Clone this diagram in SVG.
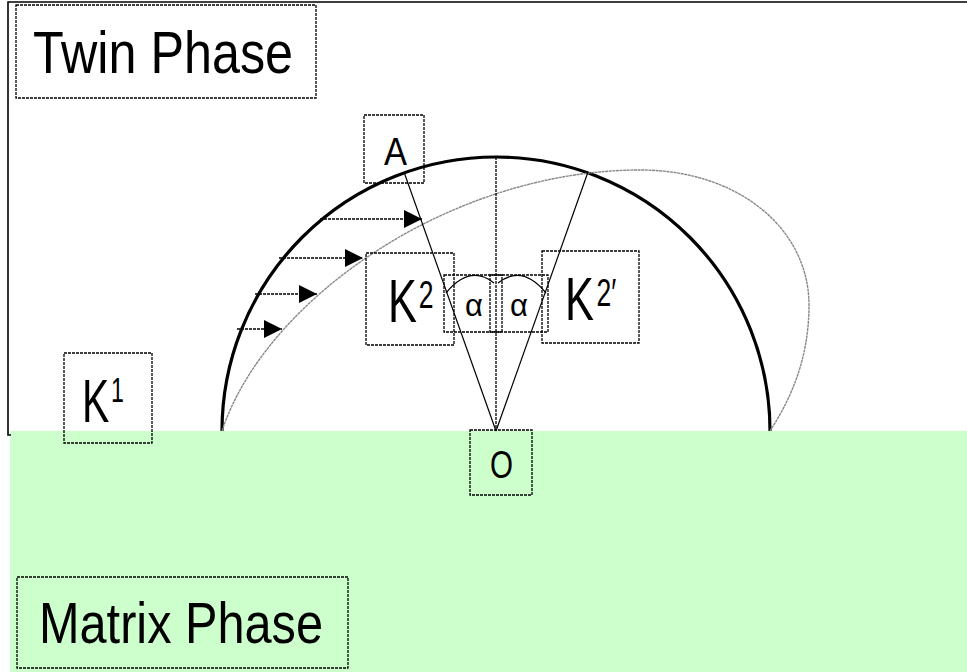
<svg xmlns="http://www.w3.org/2000/svg" width="967" height="672" viewBox="0 0 967 672">
<defs>
<style>
.lbl{fill:none;stroke:#000;stroke-width:1.3;stroke-dasharray:3 1}
.t{font-family:"Liberation Sans Narrow","Liberation Sans",Arial,sans-serif;fill:#000}
.dash{fill:none;stroke:#000;stroke-width:1.3;stroke-dasharray:3 1}
.thin{fill:none;stroke:#000;stroke-width:1.2}
</style>
<marker id="tri" viewBox="0 0 10 10" refX="10" refY="5" markerUnits="userSpaceOnUse" markerWidth="18" markerHeight="18" orient="auto">
<path d="M0,0 L10,5 L0,10 Z" fill="#000"/>
</marker>
</defs>
<rect x="0" y="0" width="967" height="672" fill="#fff"/>
<rect x="10" y="431" width="957" height="241" fill="#ccffcc"/>
<polyline points="967,2 8,2 8,435 11,435" fill="none" stroke="#000" stroke-width="1.6"/>

<g id="connectors">
<path d="M222,431 A274,274 0 0 1 770,431" fill="none" stroke="#000" stroke-width="3.2"/>
<path d="M222,431 C265,300 450,170 640,170 C740,170 809,230 809,305 C809,360 790,400 770,431" fill="none" stroke="#888" stroke-width="1.4" stroke-dasharray="3 0.6"/>
<line x1="496" y1="157" x2="496" y2="431" class="dash"/>
<line x1="404" y1="172" x2="496" y2="431" class="thin"/>
<line x1="588" y1="172" x2="496" y2="431" class="thin"/>
<line x1="320" y1="219" x2="422" y2="219" class="dash" marker-end="url(#tri)"/>
<line x1="279" y1="258" x2="363" y2="258" class="dash" marker-end="url(#tri)"/>
<line x1="255" y1="294" x2="317" y2="294" class="dash" marker-end="url(#tri)"/>
<line x1="237" y1="329" x2="282" y2="329" class="dash" marker-end="url(#tri)"/>
<path d="M446,293 Q470,264 494,283" class="thin"/>
<path d="M498,283 Q522,264 546,293" class="thin"/>
</g>

<g id="twin-phase">
<rect x="16" y="5" width="300" height="93" class="lbl"/>
<text x="33" y="73" class="t" font-size="60" textLength="260" lengthAdjust="spacingAndGlyphs">Twin Phase</text>
</g>
<g id="matrix-phase">
<rect x="17" y="577" width="331" height="91" class="lbl"/>
<text x="39" y="643" class="t" font-size="57" textLength="284" lengthAdjust="spacingAndGlyphs">Matrix Phase</text>
</g>
<g id="A">
<rect x="364" y="115" width="60" height="68" class="lbl"/>
<text x="384" y="165" class="t" font-size="39" textLength="23" lengthAdjust="spacingAndGlyphs">A</text>
</g>
<g id="K1">
<rect x="64" y="353" width="88" height="90" class="lbl"/>
<text transform="translate(82,422) scale(0.66,1)" class="t" font-size="62">K<tspan x="44" y="-20" font-size="35">1</tspan></text>
</g>
<g id="K2">
<rect x="366" y="253" width="88" height="92" class="lbl"/>
<text transform="translate(388,322) scale(0.7,1)" class="t" font-size="62">K<tspan x="44" y="-14" font-size="38">2</tspan></text>
</g>
<g id="K2prime">
<rect x="542" y="251" width="97" height="92" class="lbl"/>
<text transform="translate(565,320) scale(0.7,1)" class="t" font-size="62">K<tspan x="45" y="-14" font-size="38">2′</tspan></text>
</g>
<g id="alpha-left">
<rect x="444" y="275" width="58" height="57" class="lbl"/>
<text x="474" y="316" class="t" font-size="31" text-anchor="middle">α</text>
</g>
<g id="alpha-right">
<rect x="490" y="275" width="58" height="57" class="lbl"/>
<text x="519" y="316" class="t" font-size="31" text-anchor="middle">α</text>
</g>
<g id="O">
<rect x="470" y="430" width="62" height="65" class="lbl"/>
<text x="490" y="478" class="t" font-size="38" textLength="23" lengthAdjust="spacingAndGlyphs">O</text>
</g>
</svg>
